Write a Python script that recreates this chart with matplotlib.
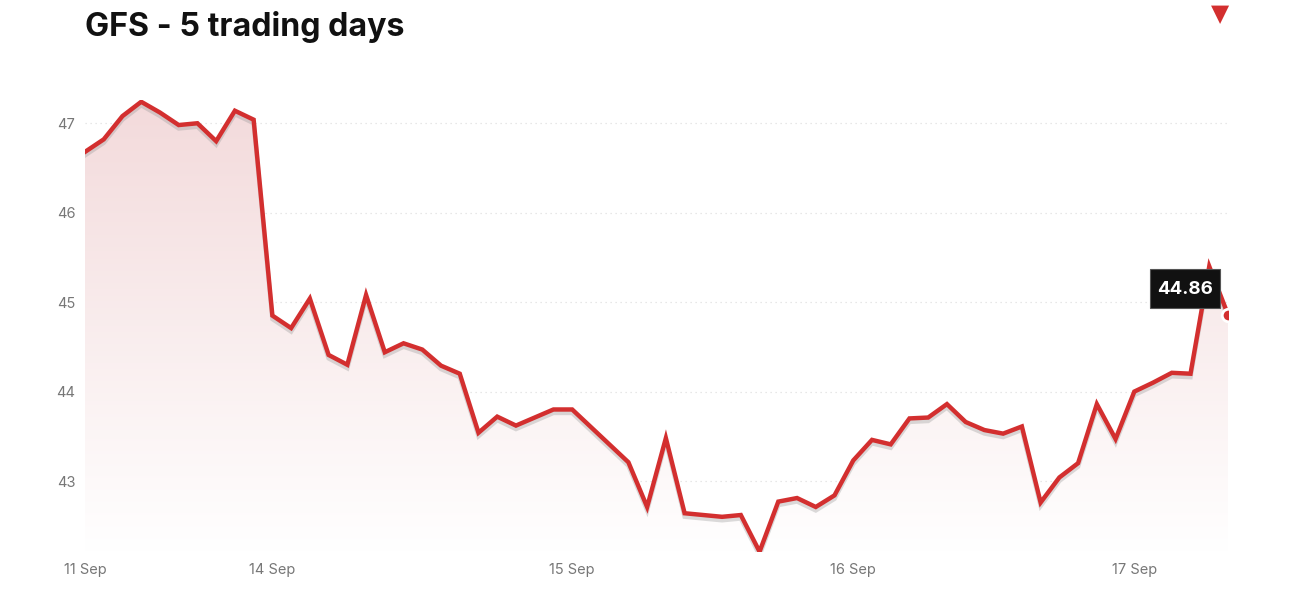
import numpy as np
import matplotlib.pyplot as plt
import matplotlib.patheffects as pe
from matplotlib.patches import Polygon, Rectangle

plt.rcParams['font.family'] = ['Inter', 'DejaVu Sans']

# bar slot of each price point (slots 27 and 28 have no trade)
slots = list(range(0, 27)) + list(range(29, 62))
prices = [46.68, 46.82, 47.08, 47.24, 47.12, 46.98, 47.00, 46.80, 47.14, 47.04,
          44.85, 44.71, 45.04, 44.41, 44.30, 45.08, 44.44, 44.54, 44.47, 44.29,
          44.20, 43.54, 43.72, 43.62, 43.71, 43.80, 43.80,
          43.21, 42.71, 43.48, 42.64, 42.62, 42.60, 42.62, 42.21, 42.77, 42.81,
          42.71, 42.84, 43.23, 43.46, 43.41, 43.70, 43.71, 43.86, 43.66, 43.57,
          43.53, 43.61, 42.76, 43.04, 43.20, 43.86, 43.47, 44.00, 44.10, 44.21,
          44.20, 45.40, 44.86]
tick_slots = [0, 10, 26, 41, 56]
tick_labels = ['11 Sep', '14 Sep', '15 Sep', '16 Sep', '17 Sep']
y_ticks = [43, 44, 45, 46, 47]
last_price = '44.86'

red = '#d32f2f'
W, H = 1300, 600
fig = plt.figure(figsize=(13, 6), dpi=100)
ax = fig.add_axes([85 / W, 1 - 551.7 / H, 1143 / W, 451.7 / H])
ymin, ymax = 42.21, 47.26
xmin, xmax = 0, 61
ax.set_xlim(xmin, xmax)
ax.set_ylim(ymin, ymax)

# gradient fill under the line
grad = np.linspace(1, 0, 256).reshape(-1, 1)
img = ax.imshow(grad, extent=[xmin, xmax, ymin, ymax], aspect='auto',
                cmap=plt.matplotlib.colors.LinearSegmentedColormap.from_list(
                    'g', ['#ffffff', '#f3dadb']), zorder=1)
poly = Polygon(list(zip(slots, prices)) + [(slots[-1], ymin), (slots[0], ymin)],
               closed=True, facecolor='none', edgecolor='none')
ax.add_patch(poly)
img.set_clip_path(poly)

for t in y_ticks:
    ax.axhline(t, color='#e0e0e0', lw=0.9, ls=(0, (1, 3)), zorder=0.5)

ax.plot(slots, prices, color=red, lw=3.2, solid_joinstyle='miter', zorder=3,
        path_effects=[pe.SimpleLineShadow(offset=(0, -2.5), shadow_color='#999999', alpha=0.35),
                      pe.Normal()])
ax.plot(slots[-1], prices[-1], 'o', ms=9, color=red, mec='white', mew=2, zorder=4)

ax.set_yticks(y_ticks)
ax.set_yticklabels([str(t) for t in y_ticks])
ax.set_xticks(tick_slots)
ax.set_xticklabels(tick_labels)
ax.tick_params(axis='both', length=0, labelsize=10.5, colors='#777777')
ax.tick_params(axis='y', pad=7)
ax.tick_params(axis='x', pad=8)
for s in ax.spines.values():
    s.set_visible(False)

fig.text(85 / W, 1 - 36 / H, 'GFS - 5 trading days', fontsize=23.2,
         fontweight='bold', color='#111111', ha='left', va='baseline')
fig.text(1220 / W, 1 - 14 / H, '\u25bc', fontsize=17, color=red,
         ha='center', va='center', family=['DejaVu Sans'])

# last price label
fig.add_artist(Rectangle((1150 / W, 1 - 308 / H), 70 / W, 39 / H,
                         transform=fig.transFigure, facecolor='#111111',
                         edgecolor='#555555', lw=0.8, zorder=5))
fig.text(1185 / W, 1 - 289 / H, last_price, fontsize=13.5, fontweight='bold',
         color='white', ha='center', va='center', zorder=6)

fig.savefig('out.png', dpi=100, facecolor='white')
